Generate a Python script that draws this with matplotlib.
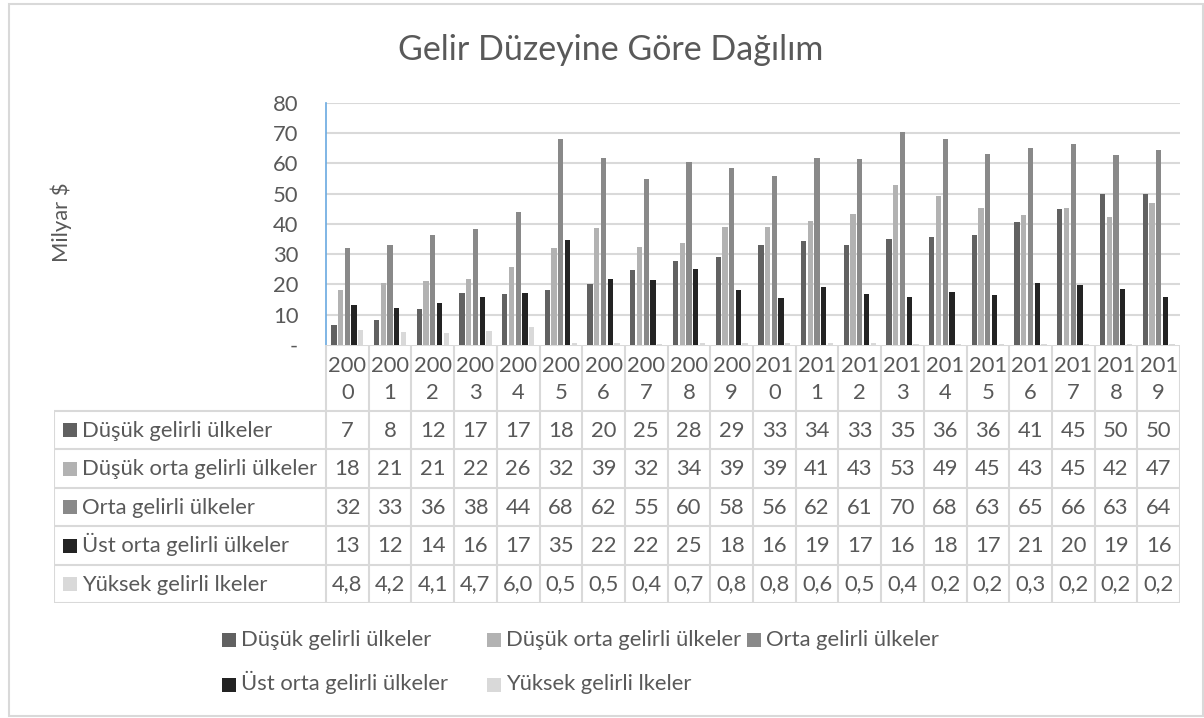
import matplotlib
matplotlib.use("Agg")
import matplotlib.pyplot as plt
from matplotlib.patches import Rectangle

# ---------------- data ----------------
years = [str(y) for y in range(2000, 2020)]
series_names = ["Düşük gelirli ülkeler", "Düşük orta gelirli ülkeler", "Orta gelirli ülkeler",
                "Üst orta gelirli ülkeler", "Yüksek gelirli lkeler"]
dusuk = [6.6, 8.4, 11.8, 17.1, 16.7, 18.3, 20.3, 24.6, 27.7, 29.2,
         33.0, 34.3, 33.0, 35.0, 35.6, 36.2, 40.6, 44.9, 49.9, 49.7]
dusuk_orta = [18.2, 20.6, 21.0, 21.7, 25.6, 32.0, 38.7, 32.2, 33.8, 39.1,
              39.1, 41.0, 43.3, 52.8, 49.1, 45.1, 42.9, 45.1, 42.1, 46.9]
orta = [32.0, 33.0, 36.2, 38.2, 43.8, 67.9, 61.6, 54.9, 60.3, 58.4,
        55.9, 61.7, 61.3, 70.3, 68.1, 63.0, 64.9, 66.2, 62.6, 64.4]
ust_orta = [13.2, 12.1, 13.8, 15.7, 17.3, 34.7, 21.8, 21.6, 25.2, 18.0,
            15.5, 19.1, 16.8, 15.9, 17.6, 16.6, 20.6, 19.7, 18.6, 16.0]
yuksek = [4.8, 4.2, 4.1, 4.7, 6.0, 0.5, 0.5, 0.4, 0.7, 0.8,
          0.8, 0.6, 0.5, 0.4, 0.2, 0.2, 0.3, 0.2, 0.2, 0.2]
series = [dusuk, dusuk_orta, orta, ust_orta, yuksek]
decimals = [0, 0, 0, 0, 1]
colors = ["#616161", "#b2b2b2", "#898989", "#232323", "#d9d9d9"]
yticks = [0, 10, 20, 30, 40, 50, 60, 70, 80]
ytick_labels = ["-", "10", "20", "30", "40", "50", "60", "70", "80"]
title = "Gelir Düzeyine Göre Dağılım"
ylabel = "Milyar $"

# ---------------- style ----------------
FONT = ["Lato", "DejaVu Sans"]
plt.rcParams['font.family'] = FONT
TXT = "#595959"
GRID = "#d9d9d9"
FS = 15.8

W, H = 1204, 718
fig = plt.figure(figsize=(W / 100, H / 100), dpi=100)

def fx(px):
    return px / W

def fy(py):
    return 1 - py / H

# chart border
fig.add_artist(Rectangle((fx(9), fy(716)), fx(1203) - fx(9), fy(4) - fy(716),
                         transform=fig.transFigure, fill=False, ec=GRID, lw=1.5))

# ---------------- bar axes ----------------
PL, PR, PT, PB = 326, 1180, 102.7, 345
ax = fig.add_axes([fx(PL), fy(PB), fx(PR) - fx(PL), fy(PT) - fy(PB)])
n = len(years)
stride = 0.157
bw = 0.124
for k, (vals, c) in enumerate(zip(series, colors)):
    xs = [i + (k - 2) * stride for i in range(n)]
    ax.bar(xs, vals, width=bw, color=c, zorder=3)
ax.set_xlim(-0.5, n - 0.5)
ax.set_ylim(0, 80)
ax.set_yticks(yticks)
ax.set_yticklabels(ytick_labels, color=TXT, fontsize=FS)
ax.tick_params(axis='y', length=0, pad=20)
ax.set_xticks([])
for yv in yticks[1:]:
    ax.axhline(yv, color=GRID, lw=1.5, zorder=1)
for s in ["top", "right", "bottom"]:
    ax.spines[s].set_visible(False)
ax.spines["left"].set_color("#6aa9e0")
ax.spines["left"].set_linewidth(1.2)

fig.text(fx(61), fy(222), ylabel, rotation=90, ha='center', va='center',
         color=TXT, fontsize=FS)
fig.text(fx(611), fy(50), title, ha='center', va='center', color=TXT, fontsize=24.5)

# ---------------- data table ----------------
TL = 54
TB = 603.3
HB = 411
cw = (PR - PL) / n
tax = fig.add_axes([fx(TL), fy(TB), fx(PR) - fx(TL), fy(PB) - fy(TB)])
x_left = -0.5 - (PL - TL) / cw
tax.set_xlim(x_left, n - 0.5)
tax.set_ylim(TB, PB)
tax.axis('off')
row_h = (TB - HB) / len(series)
lkw = dict(color=GRID, lw=1.5, solid_capstyle='butt')
# header row
tax.plot([-0.5, n - 0.5], [PB, PB], **lkw)
for i in range(n + 1):
    tax.plot([i - 0.5, i - 0.5], [PB, TB], **lkw)
tax.plot([x_left, x_left], [HB, TB], **lkw)
for r in range(len(series) + 1):
    yy = HB + r * row_h
    tax.plot([x_left, n - 0.5], [yy, yy], **lkw)
for i, yr in enumerate(years):
    tax.text(i, 372, yr[:3], ha='center', va='baseline', color=TXT, fontsize=FS)
    tax.text(i, 398.5, yr[3:], ha='center', va='baseline', color=TXT, fontsize=FS)
sq = 14 / cw
for r, (name, vals, c, d) in enumerate(zip(series_names, series, colors, decimals)):
    yc = HB + (r + 0.5) * row_h
    tax.add_patch(Rectangle((x_left + (63 - TL) / cw, yc - 7), sq, 14, color=c, lw=0))
    tax.text(x_left + (82 - TL) / cw, yc + 6.5, name, ha='left', va='baseline',
             color=TXT, fontsize=FS)
    for i, v in enumerate(vals):
        s = f"{v:.{d}f}".replace('.', ',')
        tax.text(i, yc + 6.5, s, ha='center', va='baseline', color=TXT, fontsize=FS)

# ---------------- legend ----------------
leg_pos = [(222, 639.5), (487, 639.5), (747, 639.5), (222, 684.5), (487, 684.5)]
for (lx, ly), name, c in zip(leg_pos, series_names, colors):
    fig.add_artist(Rectangle((fx(lx), fy(ly + 7)), fx(14), 14 / H,
                             transform=fig.transFigure, color=c, lw=0))
    fig.text(fx(lx + 19), fy(ly + 6), name, ha='left', va='baseline',
             color=TXT, fontsize=FS)

fig.savefig("out.png", dpi=100)
